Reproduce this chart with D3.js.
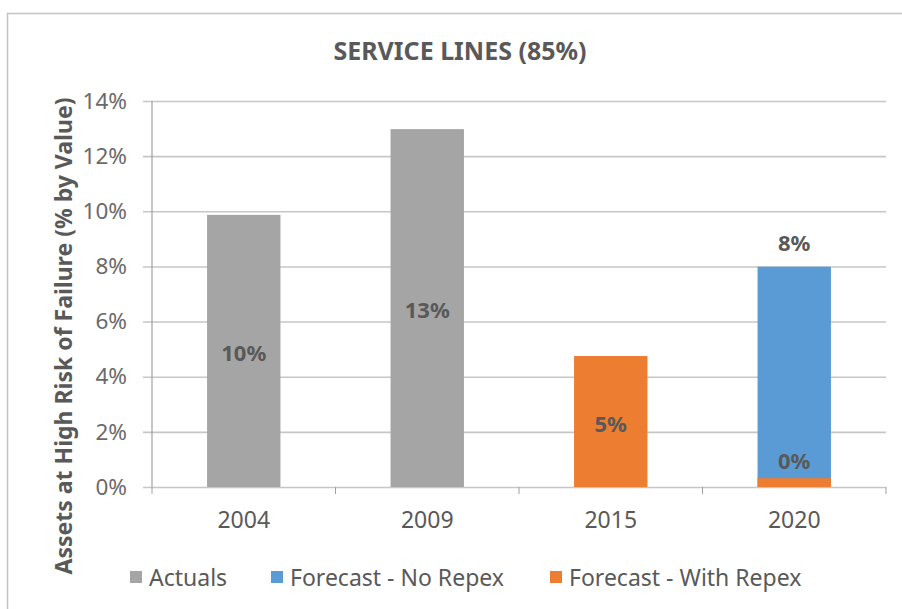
<!DOCTYPE html>
<html>
<head>
<meta charset="utf-8">
<script src="https://cdn.jsdelivr.net/npm/d3@7/dist/d3.min.js"></script>
<style>
  html, body { margin: 0; padding: 0; background: #fff; }
  svg { display: block; }
  text { font-family: "Noto Sans", "Open Sans", sans-serif; }
</style>
</head>
<body>
<svg id="chart" width="902" height="609"></svg>
<script>
// Asset risk data, one array per series (null where a series has no bar)
const categories = ["2004", "2009", "2015", "2020"];
const actuals    = [0.0987, 0.1298, null, null];
const noRepex    = [null, null, null, 0.0799];
const withRepex  = [null, null, 0.0475, 0.0032];
const yTicks     = [0, 0.02, 0.04, 0.06, 0.08, 0.10, 0.12, 0.14];
const seriesNames = ["Actuals", "Forecast - No Repex", "Forecast - With Repex"];
const seriesColors = ["#a5a5a5", "#5b9bd5", "#ed7d31"];

const svg = d3.select("#chart");
const W = 902, H = 609;
const plot = { left: 152, right: 886, top: 101, bottom: 487 };
const textColor = "#595959";
const pct = d3.format(".0%");

// chart frame
svg.append("rect")
  .attr("x", 7.5).attr("y", 13.5)
  .attr("width", W + 20).attr("height", H + 20)
  .attr("fill", "#fff").attr("stroke", "#c4c4c4").attr("stroke-width", 1.5);

const x = d3.scaleBand().domain(categories)
  .range([plot.left, plot.right]).paddingInner(0.6).paddingOuter(0.3);
const y = d3.scaleLinear().domain([0, 0.14]).range([plot.bottom, plot.top]);

// horizontal gridlines with outward tick stubs
const yAxis = d3.axisLeft(y).tickValues(yTicks).tickFormat(d3.format(".0%"))
  .tickSize(-(plot.right - plot.left)).tickPadding(25);
const gy = svg.append("g").attr("transform", `translate(${plot.left},0)`).call(yAxis);
gy.select(".domain").remove();
gy.selectAll(".tick line").attr("x1", -9).attr("stroke", "#c6c6c6").attr("stroke-width", 1.6);
gy.selectAll(".tick text").attr("fill", "#6a6a6a").attr("font-size", 22.5)
  .attr("font-family", "'Noto Sans', sans-serif");

// vertical axis line
svg.append("line")
  .attr("x1", plot.left).attr("x2", plot.left)
  .attr("y1", plot.top).attr("y2", plot.bottom)
  .attr("stroke", "#a0a0a0").attr("stroke-width", 1.2);

// category axis
const step = x.step();
const gx = svg.append("g").attr("transform", `translate(0,${plot.bottom})`)
  .call(d3.axisBottom(x).tickSize(0).tickPadding(25));
gx.select(".domain").remove();
gx.selectAll(".tick text").attr("fill", textColor).attr("font-size", 23)
  .attr("font-family", "'Noto Sans', sans-serif");
// boundary ticks between categories
const bounds = d3.range(categories.length + 1).map(i => plot.left + i * step);
svg.append("g").selectAll("line").data(bounds).join("line")
  .attr("x1", d => d).attr("x2", d => d)
  .attr("y1", plot.bottom).attr("y2", plot.bottom + 7)
  .attr("stroke", "#a0a0a0").attr("stroke-width", 1);

// bars: No Repex first, With Repex drawn over it, Actuals alone
const series = [
  { name: seriesNames[0], values: actuals,   color: seriesColors[0], label: "center" },
  { name: seriesNames[1], values: noRepex,   color: seriesColors[1], label: "outside" },
  { name: seriesNames[2], values: withRepex, color: seriesColors[2], label: "center" }
];

series.forEach(s => {
  const data = categories.map((c, i) => ({ c, v: s.values[i] })).filter(d => d.v != null);
  svg.append("g").selectAll("rect").data(data).join("rect")
    .attr("x", d => x(d.c)).attr("width", x.bandwidth())
    .attr("y", d => y(d.v)).attr("height", d => y(0) - y(d.v))
    .attr("fill", s.color);
});

series.forEach(s => {
  const data = categories.map((c, i) => ({ c, v: s.values[i] })).filter(d => d.v != null);
  svg.append("g").selectAll("text").data(data).join("text")
    .attr("x", d => x(d.c) + x.bandwidth() / 2)
    .attr("y", d => {
      const h = y(0) - y(d.v);
      if (s.label === "outside") return y(d.v) - 25;
      if (h < 30) return y(d.v) - 18;
      return (y(d.v) + y(0)) / 2 + 1;
    })
    .attr("text-anchor", "middle").attr("dominant-baseline", "central")
    .attr("font-size", 22).attr("font-weight", "bold").attr("fill", textColor)
    .text(d => pct(d.v));
});

// title
svg.append("text")
  .attr("x", 460).attr("y", 50).attr("text-anchor", "middle").attr("dominant-baseline", "central")
  .attr("font-family", "'Liberation Sans Narrow', 'DejaVu Sans Condensed', sans-serif")
  .attr("font-size", 25).attr("font-weight", "bold").attr("fill", textColor)
  .text("SERVICE LINES (85%)");

// y axis title
svg.append("text")
  .attr("transform", `translate(63,336) rotate(-90)`)
  .attr("text-anchor", "middle").attr("dominant-baseline", "central")
  .attr("font-size", 23).attr("font-weight", "bold").attr("fill", textColor)
  .text("Assets at High Risk of Failure (% by Value)");

// legend
const legendX = [130, 271, 550];
const lg = svg.append("g").selectAll("g").data(seriesNames).join("g")
  .attr("transform", (d, i) => `translate(${legendX[i]},577)`);
lg.append("rect").attr("x", 0).attr("y", -6).attr("width", 12).attr("height", 12)
  .attr("fill", (d, i) => seriesColors[i]);
lg.append("text").attr("x", 19).attr("y", 0).attr("dominant-baseline", "central")
  .attr("font-size", 23).attr("fill", textColor).text(d => d);
</script>
</body>
</html>
